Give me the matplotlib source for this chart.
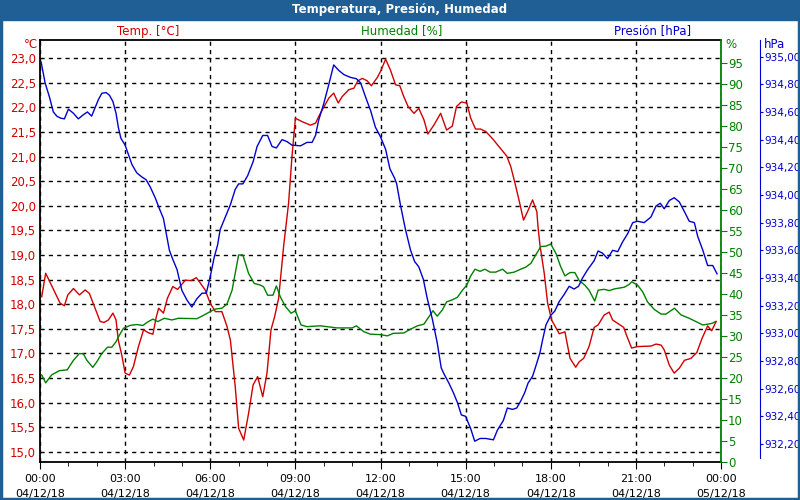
import matplotlib
matplotlib.use("Agg")
import matplotlib.pyplot as plt
from matplotlib.ticker import FuncFormatter, MultipleLocator, FixedLocator
from matplotlib.patches import Rectangle

plt.rcParams['font.family'] = ['DejaVu Sans']

# --- datos (horas desde 04/12/18 00:00) ---
temp_h = [0.06, 0.20, 0.71, 0.86, 0.98, 1.18, 1.39, 1.59, 1.74, 1.94, 2.12, 2.26, 2.41, 2.57, 2.68,
          2.76, 2.88, 3.00, 3.15, 3.29, 3.47, 3.65, 3.82, 3.98, 4.09, 4.18, 4.35, 4.49, 4.68, 4.85,
          5.12, 5.32, 5.51, 5.65, 5.82, 6.00, 6.18, 6.41, 6.59, 6.71, 6.88, 7.00, 7.18, 7.35, 7.51,
          7.67, 7.85, 8.00, 8.14, 8.27, 8.41, 8.59, 8.76, 8.88, 9.00, 9.24, 9.53, 9.71, 9.88, 10.18,
          10.35, 10.51, 10.65, 10.88, 11.06, 11.20, 11.36, 11.53, 11.68, 11.89, 12.00, 12.18, 12.35,
          12.53, 12.68, 12.82, 12.97, 13.18, 13.35, 13.53, 13.67, 13.88, 14.12, 14.33, 14.53, 14.68,
          14.85, 15.04, 15.18, 15.35, 15.53, 15.71, 15.94, 16.18, 16.45, 16.59, 16.74, 16.88, 17.04,
          17.18, 17.36, 17.51, 17.55, 17.62, 17.77, 17.89, 18.03, 18.30, 18.50, 18.59, 18.68, 18.88,
          19.00, 19.16, 19.35, 19.53, 19.67, 19.88, 20.06, 20.18, 20.36, 20.57, 20.69, 20.85, 21.06,
          21.53, 21.71, 21.89, 22.00, 22.18, 22.35, 22.53, 22.71, 22.94, 23.15, 23.32, 23.53, 23.67,
          23.83]
temp_c = [18.15, 18.63, 18.02, 17.97, 18.19, 18.32, 18.19, 18.29, 18.22, 17.92, 17.65, 17.63, 17.68,
          17.82, 17.68, 17.27, 16.97, 16.60, 16.56, 16.73, 17.14, 17.48, 17.42, 17.39, 17.72, 17.92,
          17.82, 18.12, 18.36, 18.30, 18.49, 18.48, 18.54, 18.43, 18.29, 18.02, 17.85, 17.85, 17.55,
          17.27, 16.33, 15.48, 15.24, 15.78, 16.36, 16.53, 16.12, 16.60, 17.48, 17.75, 18.12, 19.20,
          20.05, 21.00, 21.78, 21.71, 21.64, 21.68, 21.88, 22.19, 22.29, 22.09, 22.22, 22.36, 22.39,
          22.54, 22.59, 22.54, 22.44, 22.61, 22.73, 22.98, 22.76, 22.46, 22.44, 22.22, 22.02, 21.88,
          21.98, 21.75, 21.46, 21.64, 21.88, 21.54, 21.62, 22.02, 22.11, 22.09, 21.78, 21.56, 21.56,
          21.51, 21.37, 21.20, 21.01, 20.80, 20.46, 20.12, 19.71, 19.88, 20.12, 19.88, 19.58, 19.20,
          18.63, 18.02, 17.68, 17.40, 17.44, 17.17, 16.90, 16.72, 16.83, 16.90, 17.14, 17.53, 17.58,
          17.78, 17.84, 17.68, 17.61, 17.53, 17.34, 17.11, 17.14, 17.15, 17.19, 17.17, 17.07, 16.76,
          16.60, 16.70, 16.86, 16.90, 17.02, 17.29, 17.56, 17.46, 17.65]

hum_h = [0.06, 0.20, 0.41, 0.68, 0.96, 1.18, 1.39, 1.53, 1.65, 1.86, 2.00, 2.18, 2.38, 2.53, 2.68,
         2.80, 2.94, 3.18, 3.41, 3.63, 3.79, 3.98, 4.15, 4.38, 4.65, 4.88, 5.53, 5.76, 6.00, 6.18,
         6.41, 6.59, 6.77, 7.00, 7.15, 7.35, 7.55, 7.77, 7.88, 8.02, 8.21, 8.33, 8.47, 8.65, 8.85,
         9.00, 9.20, 9.41, 9.88, 10.47, 11.00, 11.15, 11.41, 11.65, 12.00, 12.24, 12.45, 12.82,
         13.06, 13.30, 13.53, 13.71, 13.85, 14.00, 14.18, 14.33, 14.53, 14.71, 14.89, 15.04, 15.18,
         15.33, 15.51, 15.68, 15.86, 16.06, 16.30, 16.47, 16.71, 16.94, 17.12, 17.30, 17.47, 17.65,
         17.83, 18.00, 18.18, 18.35, 18.50, 18.68, 18.85, 19.00, 19.20, 19.35, 19.55, 19.67, 19.88,
         20.06, 20.24, 20.59, 20.77, 20.85, 21.06, 21.24, 21.41, 21.65, 21.89, 22.06, 22.36, 22.59,
         22.88, 23.12, 23.36, 23.53, 23.69, 23.80]
hum_pct = [20.7, 18.8, 20.7, 21.7, 21.9, 24.2, 25.8, 25.7, 24.2, 22.5, 23.8, 25.8, 27.3, 27.3, 28.6,
           30.2, 31.8, 32.5, 32.7, 32.5, 33.3, 34.0, 33.4, 34.2, 33.8, 34.2, 34.1, 34.9, 35.8, 36.4,
           36.6, 37.6, 40.9, 49.3, 49.3, 44.9, 42.5, 42.1, 41.7, 39.7, 39.7, 41.9, 39.3, 37.0, 35.4,
           36.0, 32.6, 32.2, 32.4, 31.9, 31.9, 32.4, 31.0, 30.4, 30.3, 30.0, 30.6, 30.7, 31.6, 32.4,
           32.8, 34.6, 36.0, 34.7, 36.2, 38.1, 38.6, 39.2, 40.9, 42.1, 44.3, 45.9, 45.4, 45.9, 45.2,
           45.2, 45.9, 44.9, 45.2, 45.9, 46.4, 47.3, 49.3, 51.3, 51.4, 51.9, 49.7, 46.5, 44.3, 45.1,
           45.1, 43.2, 42.1, 40.9, 38.3, 40.9, 41.1, 40.8, 41.2, 41.6, 42.3, 42.9, 42.1, 40.5, 38.1,
           36.3, 35.2, 35.2, 36.6, 35.0, 34.2, 33.4, 32.6, 32.8, 33.0, 33.4]

pres_h = [0.04, 0.18, 0.33, 0.47, 0.59, 0.73, 0.86, 1.00, 1.18, 1.35, 1.53, 1.67, 1.82, 1.94, 2.06,
          2.18, 2.33, 2.45, 2.57, 2.68, 2.76, 2.85, 3.00, 3.12, 3.24, 3.41, 3.59, 3.74, 3.88, 4.06,
          4.21, 4.35, 4.47, 4.56, 4.65, 4.83, 5.00, 5.18, 5.35, 5.53, 5.71, 5.86, 6.00, 6.14, 6.26,
          6.35, 6.53, 6.71, 6.88, 7.00, 7.15, 7.32, 7.51, 7.65, 7.85, 8.02, 8.18, 8.33, 8.53, 8.71,
          8.88, 9.18, 9.41, 9.59, 9.71, 9.82, 10.00, 10.18, 10.35, 10.53, 10.71, 10.94, 11.15, 11.30,
          11.47, 11.65, 11.82, 12.00, 12.18, 12.33, 12.50, 12.57, 12.71, 12.88, 13.06, 13.20, 13.35,
          13.51, 13.65, 13.83, 14.00, 14.14, 14.23, 14.41, 14.57, 14.71, 14.85, 15.00, 15.18, 15.32,
          15.51, 15.71, 15.98, 16.12, 16.33, 16.47, 16.65, 16.80, 16.94, 17.08, 17.20, 17.36, 17.47,
          17.62, 17.71, 17.83, 18.00, 18.14, 18.30, 18.47, 18.65, 18.82, 18.98, 19.12, 19.30, 19.53,
          19.67, 19.82, 20.00, 20.18, 20.36, 20.53, 20.71, 20.89, 21.06, 21.29, 21.53, 21.71, 21.86,
          22.00, 22.18, 22.35, 22.53, 22.71, 22.88, 23.06, 23.18, 23.36, 23.53, 23.71, 23.86]
pres_hpa = [934.96, 934.81, 934.71, 934.60, 934.57, 934.555, 934.55, 934.62, 934.59, 934.55, 934.58,
            934.60, 934.57, 934.63, 934.69, 934.735, 934.74, 934.72, 934.675, 934.59, 934.49, 934.41,
            934.36, 934.29, 934.22, 934.16, 934.13, 934.11, 934.06, 933.98, 933.90, 933.83, 933.70,
            933.60, 933.55, 933.46, 933.31, 933.24, 933.19, 933.25, 933.29, 933.29, 933.41, 933.55,
            933.64, 933.75, 933.84, 933.93, 934.04, 934.08, 934.08, 934.14, 934.24, 934.35, 934.43,
            934.43, 934.35, 934.34, 934.40, 934.385, 934.36, 934.355, 934.38, 934.38, 934.43, 934.54,
            934.66, 934.80, 934.94, 934.90, 934.87, 934.85, 934.84, 934.81, 934.71, 934.61, 934.49,
            934.42, 934.33, 934.19, 934.12, 934.08, 933.92, 933.75, 933.60, 933.52, 933.48, 933.39,
            933.25, 933.10, 932.93, 932.75, 932.71, 932.64, 932.57, 932.50, 932.41, 932.40, 932.31,
            932.22, 932.24, 932.24, 932.23, 932.30, 932.37, 932.46, 932.45, 932.46, 932.51, 932.57,
            932.64, 932.69, 932.76, 932.86, 932.95, 933.06, 933.13, 933.16, 933.23, 933.28, 933.34,
            933.32, 933.34, 933.40, 933.46, 933.525, 933.595, 933.58, 933.54, 933.60, 933.59, 933.66,
            933.72, 933.80, 933.81, 933.80, 933.84, 933.92, 933.94, 933.90, 933.96, 933.98, 933.95,
            933.88, 933.81, 933.80, 933.70, 933.60, 933.49, 933.49, 933.43]

x_ticks = [0, 3, 6, 9, 12, 15, 18, 21, 24]
x_labels = ['00:00\n04/12/18', '03:00\n04/12/18', '06:00\n04/12/18', '09:00\n04/12/18',
            '12:00\n04/12/18', '15:00\n04/12/18', '18:00\n04/12/18', '21:00\n04/12/18',
            '00:00\n05/12/18']

ROJO = '#d00000'
VERDE = '#008000'
AZUL = '#0000cc'
BARRA = '#1f5f96'

fig = plt.figure(figsize=(8, 5), dpi=100, facecolor='white')
ax = fig.add_axes([0.05, 0.0766, 0.85125, 0.8434])
ax2 = ax.twinx()
ax3 = ax.twinx()

# barra de titulo y marco
fig.patches.append(Rectangle((0, 0.96), 1, 0.04, transform=fig.transFigure, color=BARRA, zorder=0))
fig.patches.append(Rectangle((0.001, 0.002), 0.998, 0.997, transform=fig.transFigure,
                             fill=False, edgecolor=BARRA, linewidth=2.5, zorder=5))
fig.text(0.5, 0.980, 'Temperatura, Presión, Humedad', color='white', fontsize=8.5,
         fontweight='bold', ha='center', va='center')

ax.plot(temp_h, temp_c, color=ROJO, lw=1, zorder=3)
ax2.plot(hum_h, hum_pct, color=VERDE, lw=1)
ax3.plot(pres_h, pres_hpa, color=AZUL, lw=1)

ax.set_xlim(0, 24)
ax.set_ylim(14.80, 23.37)
ax2.set_ylim(0, 100.55)
ax3.set_ylim(932.072, 935.12)

# eje x
ax.set_xticks(x_ticks)
ax.set_xticklabels(x_labels, fontsize=8, linespacing=1.55)
ax.xaxis.set_minor_locator(MultipleLocator(1))
ax.tick_params(axis='x', which='major', length=5, direction='out', pad=4)
ax.tick_params(axis='x', which='minor', length=3, direction='out')

# temperatura
ax.yaxis.set_major_locator(FixedLocator([15 + 0.5 * i for i in range(17)]))
ax.yaxis.set_major_formatter(FuncFormatter(lambda v, p: ('%.1f' % v).replace('.', ',')))
ax.tick_params(axis='y', length=0, labelcolor=ROJO, labelsize=8.5, pad=3)
ax.grid(True, color='black', linestyle=(0, (3, 3)), linewidth=1)

# humedad
ax2.yaxis.set_major_locator(FixedLocator(list(range(0, 100, 5))))
ax2.tick_params(axis='y', colors=VERDE, labelsize=8.5, length=4, direction='out', pad=1)
ax2.spines['right'].set_color(VERDE)
ax2.spines['right'].set_linewidth(1.3)

# presion
ax3.spines['right'].set_position(('axes', 1.057))
ax3.spines['right'].set_color(AZUL)
ax3.spines['right'].set_bounds(932.10, 935.12)
ax3.yaxis.set_major_locator(FixedLocator([932.2 + 0.2 * i for i in range(15)]))
ax3.yaxis.set_major_formatter(FuncFormatter(lambda v, p: ('%.2f' % v).replace('.', ',')))
ax3.tick_params(axis='y', colors=AZUL, labelsize=7.5, length=2, direction='out', pad=1)

for a in (ax2, ax3):
    for s in ('left', 'top', 'bottom'):
        a.spines[s].set_visible(False)
for s in ('left', 'top', 'bottom'):
    ax.spines[s].set_linewidth(1.3)
ax.spines['right'].set_visible(False)

# rotulos de ejes
fig.text(0.185, 0.938, 'Temp. [°C]', color=ROJO, fontsize=8.5, ha='center', va='center')
fig.text(0.5025, 0.938, 'Humedad [%]', color=VERDE, fontsize=8.5, ha='center', va='center')
fig.text(0.816, 0.938, 'Presión [hPa]', color=AZUL, fontsize=8.5, ha='center', va='center')
fig.text(0.047, 0.910, '°C', color=ROJO, fontsize=8.5, ha='right', va='center')
fig.text(0.907, 0.910, '%', color=VERDE, fontsize=8.5, ha='left', va='center')
fig.text(0.955, 0.910, 'hPa', color=AZUL, fontsize=8.5, ha='left', va='center')

fig.savefig('out.png', dpi=100, facecolor='white')
